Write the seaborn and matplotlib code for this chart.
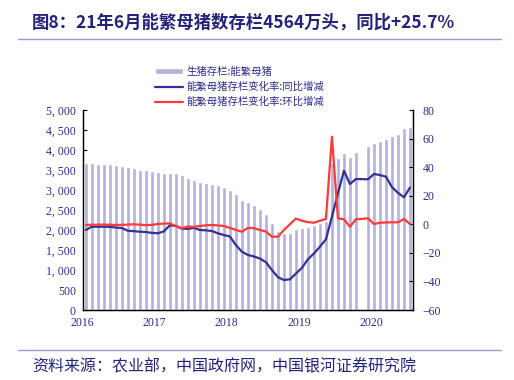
import matplotlib
matplotlib.use("Agg")
from matplotlib import pyplot as plt
from matplotlib import ticker
import seaborn as sns
import pandas as pd
import numpy as np

# =============================================================================
# data (monthly, 2016-01 onwards)
# =============================================================================
sow_stock = [3675, 3675, 3658, 3658, 3658, 3633, 3608, 3583, 3550, 3508,
             3508, 3475, 3450, 3425, 3425, 3425, 3375, 3300, 3250, 3200,
             3167, 3150, 3117, 3075, 3008, 2900, 2750, 2700, 2625, 2525,
             2400, 2183, 1983, 1933, 1933, 2017, 2058, 2067, 2117, 2167,
             2230, 3667, 3792, 3917, 3833, 3958, np.nan, 4100, 4183, 4225,
             4267, 4350, 4392, 4542, 4564]
yoy = [-4.0, -1.7, -1.7, -1.7, -1.8, -2.3, -2.6, -4.5, -4.8, -5.2,
       -5.4, -6.0, -6.3, -5.0, -0.7, -1.2, -3.0, -3.2, -2.5, -4.0,
       -4.2, -4.7, -6.3, -7.5, -8.5, -14.5, -19.2, -21.5, -22.5, -24.0,
       -26.5, -32.0, -37.0, -39.0, -38.5, -34.5, -30.5, -24.5, -20.5, -15.7,
       -10.5, 5.3, 21.7, 37.5, 28.2, 31.7, 31.6, 31.5, 35.2, 34.5,
       33.3, 26.0, 22.0, 18.9, 25.7]
mom = [-0.5, -0.3, -0.3, -0.2, -0.3, -0.5, -0.4, -0.2, 0.0, -0.3,
       -0.6, -0.4, 0.2, 0.5, 0.6, -1.2, -2.8, -1.5, -1.8, -1.2,
       -0.7, -0.5, -0.8, -1.2, -2.5, -4.0, -5.2, -2.5, -2.7, -4.0,
       -5.0, -8.7, -8.7, -4.0, 0.0, 4.0, 2.5, 1.5, 1.1, 2.5,
       3.7, 61.3, 4.2, 3.5, -1.7, 3.5, 3.8, 4.2, 0.2, 1.1,
       1.3, 1.4, 1.4, 3.7, 0.2]
year_labels = ['2016', '2017', '2018', '2019', '2020']

bar_label = '生猪存栏:能繁母猪'
yoy_label = '能繁母猪存栏变化率:同比增减'
mom_label = '能繁母猪存栏变化率:环比增减'

df = pd.DataFrame({'pos': np.arange(len(sow_stock)) + 0.5,
                   'stock': sow_stock, 'yoy': yoy, 'mom': mom})

# =============================================================================
# styling
# =============================================================================
sns.set_style('white')
plt.rcParams['font.family'] = ['Noto Sans CJK SC', 'DejaVu Sans']
navy = '#2b2b8c'
bar_col = '#b4b1da'
blue_col = '#34308f'
red_col = '#ff3838'
serif = ['Liberation Serif', 'DejaVu Serif']

fig = plt.figure(figsize=(5.14, 3.8), dpi=100)
ax = fig.add_axes([0.161, 0.1842, 0.6425, 0.5263])

sns.barplot(data=df, x='pos', y='stock', native_scale=True, width=0.67,
            color=bar_col, saturation=1, ax=ax, label=bar_label)
ax2 = ax.twinx()
sns.lineplot(data=df, x='pos', y='yoy', color=blue_col, lw=1.6, ax=ax2,
             label=yoy_label)
sns.lineplot(data=df, x='pos', y='mom', color=red_col, lw=1.6, ax=ax2,
             label=mom_label)

ax.set_xlim(0, len(sow_stock))
ax.set_ylim(0, 5000)
ax2.set_ylim(-60, 80)
for a in (ax, ax2):
    a.set_xlabel('')
    a.set_ylabel('')

ax.xaxis.set_major_locator(ticker.FixedLocator([0, 12, 24, 36, 48]))
ax.set_xticklabels(year_labels)
ax.yaxis.set_major_locator(ticker.MultipleLocator(500))
ax.yaxis.set_major_formatter(ticker.FuncFormatter(lambda v, p: '{:,.0f}'.format(v).replace(',', ', ')))
ax2.yaxis.set_major_locator(ticker.MultipleLocator(20))

for a in (ax, ax2):
    a.tick_params(direction='in', length=3, width=0.8, colors='black',
                  labelcolor=navy, labelsize=8.5)
    for lab in a.get_xticklabels() + a.get_yticklabels():
        lab.set_family(serif)
    for s in a.spines.values():
        s.set_color('black')
        s.set_linewidth(0.9)
    a.spines['top'].set_visible(False)
ax.tick_params(axis='x', pad=5)
ax.tick_params(axis='y', pad=5)
ax2.tick_params(axis='y', pad=7)

# legend above the plot
h1, l1 = ax.get_legend_handles_labels()
h2, l2 = ax2.get_legend_handles_labels()
for a in (ax, ax2):
    if a.get_legend():
        a.get_legend().remove()
leg = fig.legend(h1 + h2, l1 + l2, loc='upper left',
                 bbox_to_anchor=(0.292, 0.838), frameon=False,
                 fontsize=7.5, handlelength=2.7, handleheight=0.55,
                 labelspacing=0.45, handletextpad=0.3, borderpad=0)
for t in leg.get_texts():
    t.set_color(navy)

# title, rules and source note
fig.text(0.062, 0.94, '图8：21年6月能繁母猪数存栏4564万头，同比+25.7%',
         fontsize=12.5, fontweight='bold', color='#23237a', va='center')
fig.add_artist(plt.Line2D([0.035, 0.975], [0.898, 0.898], color='#9c98d4', lw=1))
fig.add_artist(plt.Line2D([0.035, 0.975], [0.078, 0.078], color='#9c98d4', lw=1))
fig.text(0.062, 0.035, '资料来源：农业部，中国政府网，中国银河证券研究院',
         fontsize=11.5, color='#23237a', va='center')

fig.savefig('out.png', dpi=100)
